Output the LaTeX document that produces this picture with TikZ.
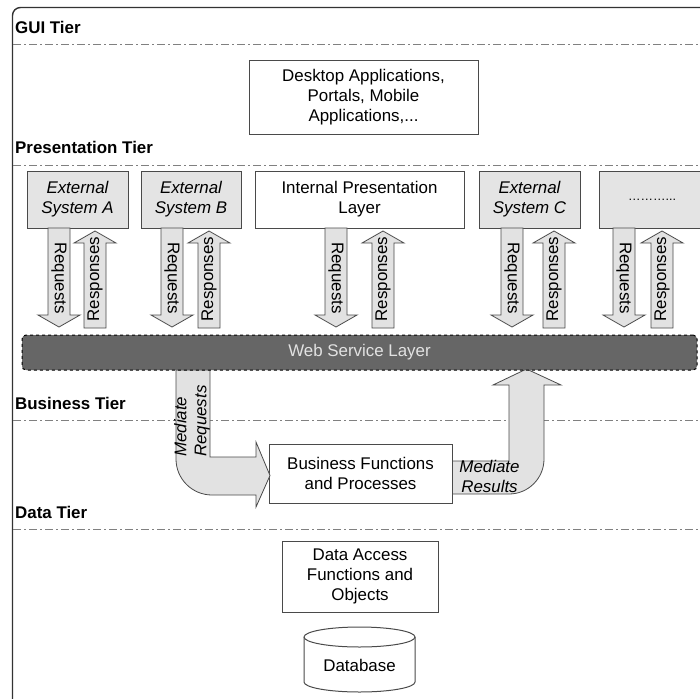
\documentclass[tikz,border=0pt]{standalone}
\usepackage{fontspec}
\setmainfont{Liberation Sans}
\definecolor{boxgray}{HTML}{E4E4E4}
\definecolor{arrgray}{HTML}{E2E2E2}
\definecolor{edgegray}{HTML}{4A4A4A}
\definecolor{wslfill}{HTML}{666666}
\definecolor{wsltext}{HTML}{E2E2E2}
\definecolor{tiergray}{HTML}{808080}
\newcommand\fs{\fontsize{16.9}{20}\selectfont}
\tikzset{
  box/.style={draw=edgegray, line width=1pt, fill=white, align=center, inner sep=0pt, font=\fs},
  extbox/.style={box, fill=boxgray, font=\fs\itshape},
  tierlabel/.style={anchor=west, inner sep=0pt, font=\fs\bfseries},
  tierline/.style={draw=tiergray, line width=1pt, dash pattern=on 8pt off 3pt on 2pt off 3pt},
  blockarrow/.style={draw=edgegray, line width=0.8pt, fill=arrgray},
  arrlabel/.style={inner sep=0pt, font=\fs},
  frame/.style={draw=black!80, line width=1.4pt, rounded corners=8pt},
}
\newcommand\reqarrow[4]{% name, x, ytop, ybot
  \draw[blockarrow] (#2-11,#3) -- (#2+11,#3) -- (#2+11,#4-12) -- (#2+21,#4-12) -- (#2,#4) -- (#2-21,#4-12) -- (#2-11,#4-12) -- cycle;
  \node[arrlabel, rotate=-90] (#1) at (#2,278) {Requests};
}
\newcommand\resarrow[4]{% name, x, ytop, ybot
  \draw[blockarrow] (#2-11,#4) -- (#2+11,#4) -- (#2+11,#3+12) -- (#2+21,#3+12) -- (#2,#3) -- (#2-21,#3+12) -- (#2-11,#3+12) -- cycle;
  \node[arrlabel, rotate=90] (#1) at (#2,279) {Responses};
}
\begin{document}
\begin{tikzpicture}[x=1pt, y=-1pt]
\useasboundingbox (0,0) rectangle (700,698);
\clip (0,0) rectangle (700,698);
\fill[white] (0,0) rectangle (700,698);
% outer frame
\draw[frame] (12.5,7.5) rectangle (720,720);
% tier labels and lines
\node[tierlabel] (guiT) at (15,27) {GUI Tier};
\draw[tierline] (13,45) -- (700,45);
\node[tierlabel] (presT) at (15,147) {Presentation Tier};
\draw[tierline] (13,165) -- (700,165);
\node[tierlabel] (busT) at (15,403) {Business Tier};
\draw[tierline] (13,420) -- (700,420);
\node[tierlabel] (dataT) at (15,512) {Data Tier};
\draw[tierline] (13,529) -- (700,529);
% GUI box
\node[box, minimum width=229pt, minimum height=73pt] (desk) at (363.5,97.5) {Desktop Applications,\\Portals, Mobile\\Applications,...};
% presentation boxes
\node[extbox, minimum width=101pt, minimum height=57pt] (extA) at (77.5,199.5) {External\\System A};
\node[extbox, minimum width=100pt, minimum height=57pt] (extB) at (191,199.5) {External\\System B};
\node[box, minimum width=209pt, minimum height=57pt] (intl) at (359.5,199.5) {Internal Presentation\\Layer};
\node[extbox, minimum width=101pt, minimum height=57pt] (extC) at (529.5,199.5) {External\\System C};
\node[box, fill=boxgray, minimum width=106pt, minimum height=57pt] (more) at (652,199.5) {\raisebox{-2pt}{\fontsize{12.5}{14}\selectfont ………...}};
% request / response arrows
\reqarrow{reqA}{59}{228}{327}
\resarrow{resA}{95}{231}{328}
\reqarrow{reqB}{172}{228}{327}
\resarrow{resB}{209}{231}{328}
\reqarrow{reqI}{336}{228}{327}
\resarrow{resI}{383}{231}{328}
\reqarrow{reqC}{512}{228}{327}
\resarrow{resC}{554}{231}{328}
\reqarrow{reqD}{624}{228}{327}
\resarrow{resD}{662}{231}{328}
% business box
\node[box, minimum width=183pt, minimum height=59pt] (biz) at (360.5,473.5) {Business Functions\\and Processes};
% mediate arrows
\draw[blockarrow] (176,370) -- (176,459) .. controls (176,478.9) and (192.1,495) .. (212,495) -- (256,495) -- (256,507) -- (270,475.5) -- (256,442) -- (256,457) -- (210,457) -- (210,370) -- cycle;
\draw[blockarrow] (biz.east |- 0,461) -- (509,461) -- (509,385) -- (493,385) -- (526.5,369) -- (561,385) -- (544,385) -- (544,459) .. controls (544,478.3) and (528.3,494) .. (509,494) -- (biz.east |- 0,494) -- cycle;
\node[inner sep=0pt, rotate=90, anchor=west, align=left, font=\fs\itshape] (medReq) at (192,457) {Mediate\\Requests};
\node[inner sep=0pt, align=center, font=\fs\itshape] (medRes) at (489.5,476.5) {Mediate\\Results};
% web service layer
\node[draw=black, dashed, line width=1pt, rounded corners=4pt, fill=wslfill, minimum width=675pt, minimum height=35pt, inner sep=0pt, text=wsltext, font=\fs] (wsl) at (359.5,352.5) {Web Service Layer};
% data tier
\node[box, minimum width=156pt, minimum height=71pt] (dacc) at (360,576.5) {Data Access\\Functions and\\Objects};
\draw[draw=edgegray, line width=1pt, fill=white] (304,637) -- (304,682) arc[start angle=180, end angle=360, x radius=55.5pt, y radius=10pt] -- (415,637) arc[start angle=0, end angle=180, x radius=55.5pt, y radius=10pt] -- cycle;
\draw[draw=edgegray, line width=1pt] (304,637) arc[start angle=180, end angle=360, x radius=55.5pt, y radius=10pt];
\node[inner sep=0pt, font=\fs] (db) at (359.5,665) {Database};
\end{tikzpicture}
\end{document}
